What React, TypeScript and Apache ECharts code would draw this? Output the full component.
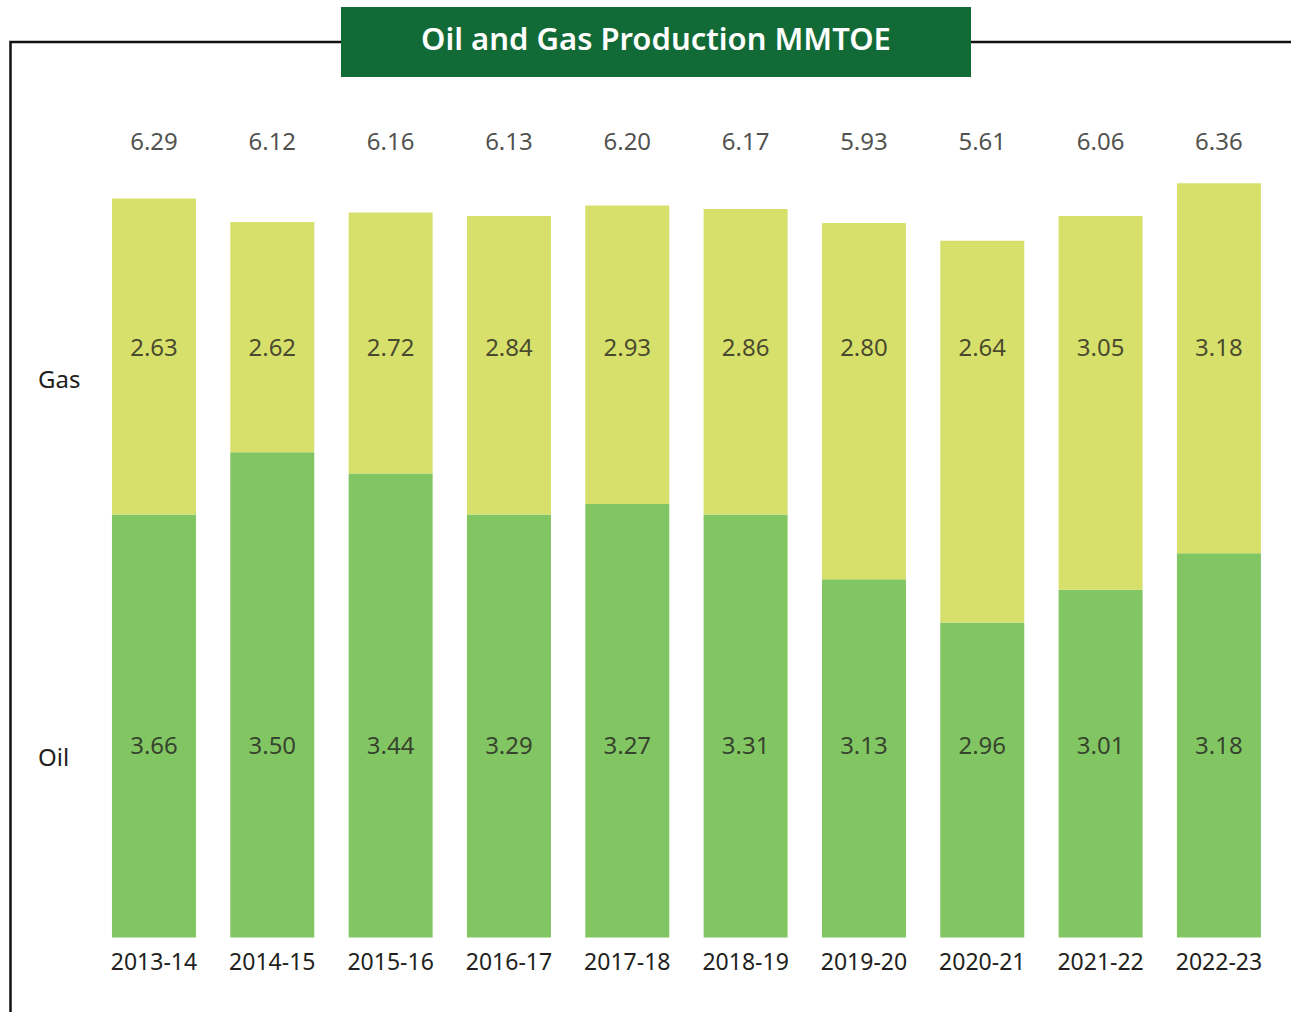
import React, { useEffect, useRef } from "react";
import * as echarts from "echarts";

// Categories (fiscal years)
const categories = [
  "2013-14", "2014-15", "2015-16", "2016-17", "2017-18",
  "2018-19", "2019-20", "2020-21", "2021-22", "2022-23",
];

// Values printed on the chart (MMTOE)
const oilValues = [3.66, 3.5, 3.44, 3.29, 3.27, 3.31, 3.13, 2.96, 3.01, 3.18];
const gasValues = [2.63, 2.62, 2.72, 2.84, 2.93, 2.86, 2.8, 2.64, 3.05, 3.18];
const totalValues = [6.29, 6.12, 6.16, 6.13, 6.2, 6.17, 5.93, 5.61, 6.06, 6.36];

// Segment heights as drawn in the reference (its bars are not to scale with the printed values)
const oilBarHeights = [3.6, 4.13, 3.95, 3.6, 3.69, 3.6, 3.05, 2.68, 2.96, 3.27];
const gasBarHeights = [2.69, 1.96, 2.22, 2.54, 2.54, 2.6, 3.03, 3.25, 3.18, 3.15];

const rowLabels = ["Gas", "Oil"];
const titleText = "Oil and Gas Production MMTOE";

const OIL_COLOR = "#82c563";
const GAS_COLOR = "#d7e06a";
const TITLE_BG = "#126a37";
const TEXT_COLOR = "#231f20";
const FONT = "'Noto Sans', 'DejaVu Sans', sans-serif";

export default function App() {
  const ref = useRef<HTMLDivElement>(null);

  useEffect(() => {
    document.body.style.margin = "0";
    if (!ref.current) return;
    const chart = echarts.init(ref.current, undefined, { renderer: "svg" });

    const labelRow = (name: string, level: number, values: number[]) => ({
      name,
      type: "scatter",
      silent: true,
      symbol: "circle",
      symbolSize: 1,
      itemStyle: { color: "transparent" },
      data: categories.map((c) => [c, level]),
      z: 5,
      label: {
        show: true,
        position: "inside",
        color: TEXT_COLOR,
        fontFamily: FONT,
        fontSize: 24,
        formatter: (p: any) => values[p.dataIndex].toFixed(2),
      },
    });

    chart.setOption({
      animation: false,
      backgroundColor: "#ffffff",
      grid: { left: 94.8, right: 12.9, top: 115, bottom: 74.5, containLabel: false },
      xAxis: {
        type: "category",
        data: categories,
        axisLine: { show: false },
        axisTick: { show: false },
        axisLabel: {
          color: TEXT_COLOR,
          fontFamily: FONT,
          fontSize: 23,
          margin: 12,
          interval: 0,
        },
      },
      yAxis: { type: "value", min: 0, max: 7, show: false, splitLine: { show: false } },
      series: [
        {
          name: "Oil",
          type: "bar",
          stack: "prod",
          barWidth: 84,
          silent: true,
          itemStyle: { color: OIL_COLOR },
          data: oilBarHeights,
        },
        {
          name: "Gas",
          type: "bar",
          stack: "prod",
          barWidth: 84,
          silent: true,
          itemStyle: { color: GAS_COLOR },
          data: gasBarHeights,
        },
        labelRow("TotalLabels", 6.78, totalValues),
        labelRow("GasLabels", 5.03, gasValues),
        labelRow("OilLabels", 1.64, oilValues),
      ],
      graphic: [
        {
          type: "polyline",
          silent: true,
          z: 1,
          shape: { points: [[10.5, 1012], [10.5, 42], [1291, 42]] },
          style: { stroke: "#111111", lineWidth: 2.5, fill: "none" },
        },
        {
          type: "rect",
          silent: true,
          z: 2,
          shape: { x: 341, y: 7, width: 630, height: 70 },
          style: { fill: TITLE_BG },
        },
        {
          type: "text",
          silent: true,
          z: 3,
          x: 656,
          y: 38,
          style: {
            text: titleText,
            fill: "#ffffff",
            font: `600 31px ${FONT}`,
            align: "center",
            verticalAlign: "middle",
          },
        },
        {
          type: "text",
          silent: true,
          z: 3,
          x: 38,
          y: 378,
          style: {
            text: rowLabels[0],
            fill: TEXT_COLOR,
            font: `24px ${FONT}`,
            align: "left",
            verticalAlign: "middle",
          },
        },
        {
          type: "text",
          silent: true,
          z: 3,
          x: 38,
          y: 756,
          style: {
            text: rowLabels[1],
            fill: TEXT_COLOR,
            font: `24px ${FONT}`,
            align: "left",
            verticalAlign: "middle",
          },
        },
      ],
    });

    return () => chart.dispose();
  }, []);

  return (
    <div
      ref={ref}
      style={{ position: "absolute", left: 0, top: 0, width: 1291, height: 1012 }}
    />
  );
}
